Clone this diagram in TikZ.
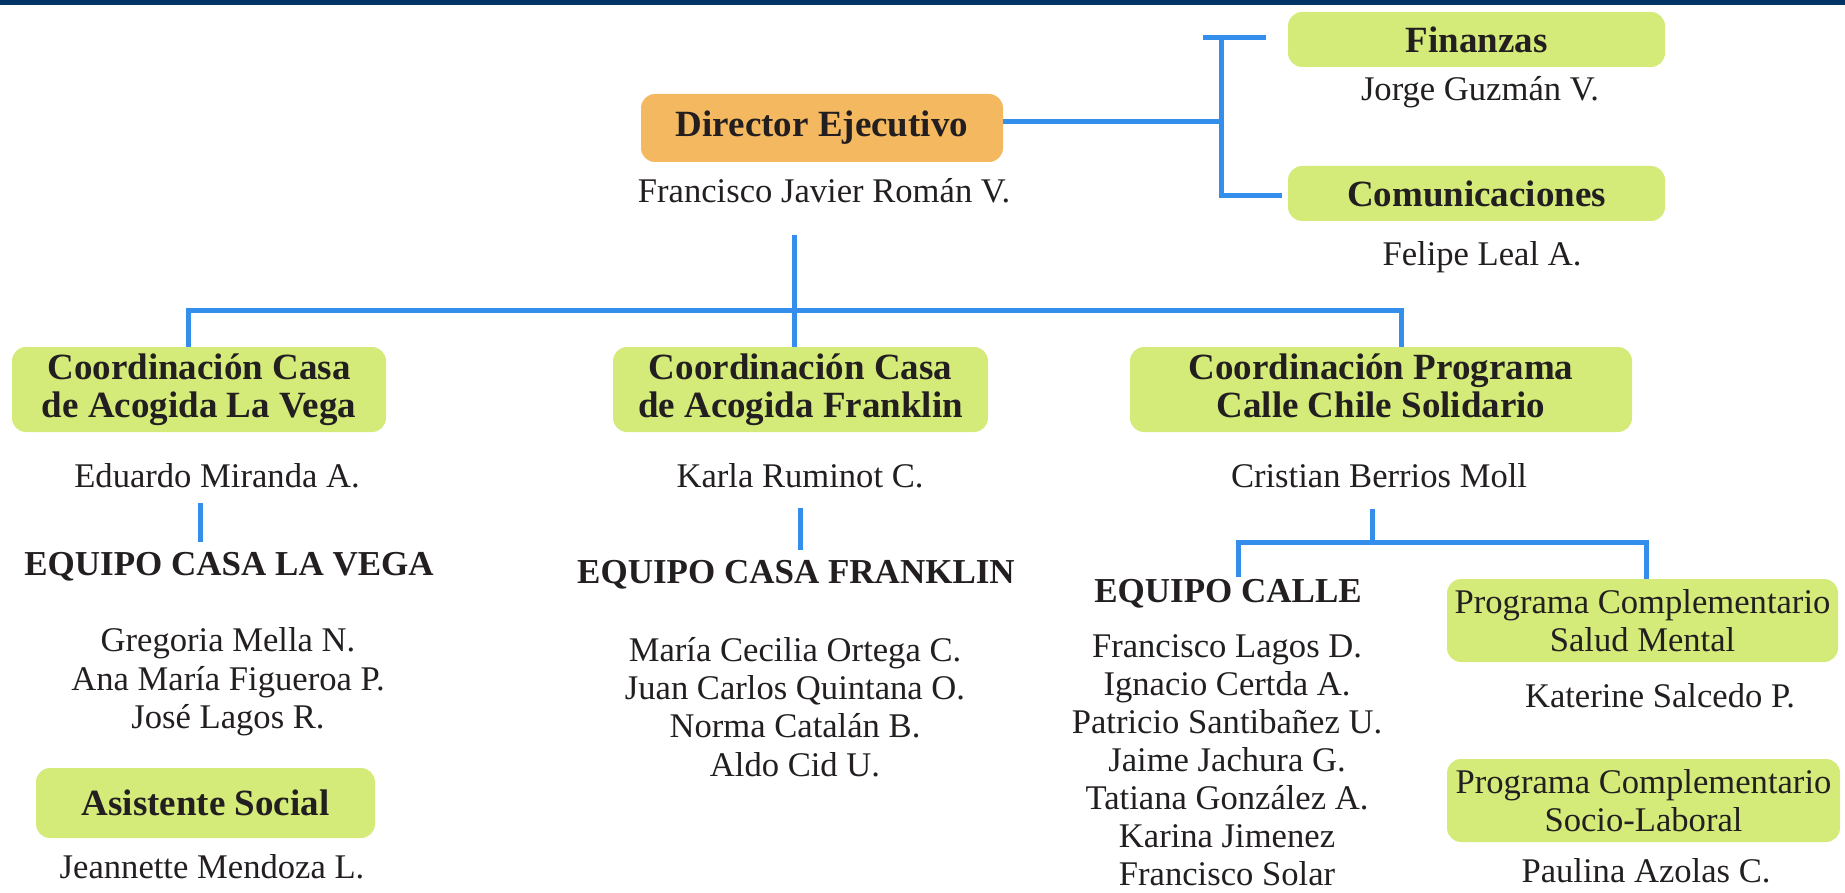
\documentclass[tikz,border=0pt]{standalone}
\usepackage{fontspec}
\setmainfont{Liberation Serif}
\definecolor{boxgreen}{RGB}{212,235,122}
\definecolor{boxorange}{RGB}{244,185,96}
\definecolor{linkblue}{RGB}{52,142,235}
\definecolor{topnavy}{RGB}{0,51,102}
\definecolor{txt}{RGB}{35,31,32}
\newcommand\namefont{\fontsize{17.3}{19.2}\selectfont}
\newcommand\headfont{\fontsize{18.5}{19}\selectfont\bfseries}
\newcommand\teamfont{\fontsize{17.5}{19}\selectfont\bfseries}
\tikzset{
  box/.style={rounded corners=7pt,fill=boxgreen,align=center,inner sep=0pt,font=\headfont,text=txt},
  dirbox/.style={box,fill=boxorange},
  pbox/.style={box,font=\namefont},
  person/.style={font=\namefont,align=center,inner sep=0pt,text=txt},
  team/.style={font=\teamfont,inner sep=0pt,text=txt,anchor=base},
  link/.style={draw=linkblue,line width=2.5pt},
}
\begin{document}
\begin{tikzpicture}[x=0.5pt,y=-0.5pt]
  \useasboundingbox (0,0) rectangle (1845,893);
  \fill[topnavy] (0,0) rectangle (1845,5);
  % direction
  \node[dirbox,minimum width=181pt,minimum height=34pt] (dir) at (822,128) {Director Ejecutivo};
  \node[person,anchor=base] (dirname) at (824,203) {Francisco Javier Román V.};
  \node[box,minimum width=188.5pt,minimum height=27.5pt] (fin) at (1476.5,39.5) {Finanzas};
  \node[person,anchor=base] (finname) at (1480,101) {Jorge Guzmán V.};
  \node[box,minimum width=188.5pt,minimum height=27.5pt] (com) at (1476.5,193.5) {Comunicaciones};
  \node[person,anchor=base] (comname) at (1482,265) {Felipe Leal A.};
  % coordinations
  \node[box,minimum width=187pt,minimum height=42.5pt] (cvega) at (199,389.5) {Coordinación Casa\\de Acogida La Vega};
  \node[box,minimum width=187.5pt,minimum height=42.5pt] (cfrank) at (800.5,389.5) {Coordinación Casa\\de Acogida Franklin};
  \node[box,minimum width=251pt,minimum height=42.5pt] (ccalle) at (1381,389.5) {Coordinación Programa\\Calle Chile Solidario\vphantom{g}};
  \node[person,anchor=base] (evega) at (217,487) {Eduardo Miranda A.};
  \node[person,anchor=base] (efrank) at (800,487) {Karla Ruminot C.};
  \node[person,anchor=base] (ecalle) at (1379,487) {Cristian Berrios Moll};
  % teams
  \node[team] (tvega) at (229,575) {EQUIPO CASA LA VEGA};
  \node[person] (lvega) at (228,682) {Gregoria Mella N.\\Ana María Figueroa P.\\José Lagos R.};
  \node[box,minimum width=169.5pt,minimum height=35pt] (asist) at (205.5,803) {Asistente Social};
  \node[person,anchor=base] (asistname) at (212,878) {Jeannette Mendoza L.};
  \node[team] (tfrank) at (796,583) {EQUIPO CASA FRANKLIN};
  \node[person] (lfrank) at (795,707) {María Cecilia Ortega C.\\Juan Carlos Quintana O.\\Norma Catalán B.\\Aldo Cid U.};
  \node[team] (tcalle) at (1228,602) {EQUIPO CALLE};
  \node[person,font=\fontsize{17.3}{19}\selectfont] (lcalle) at (1227,760) {Francisco Lagos D.\\Ignacio Certda A.\\Patricio Santibañez U.\\Jaime Jachura G.\\Tatiana González A.\\Karina Jimenez\\Francisco Solar};
  \node[pbox,minimum width=195.5pt,minimum height=41.5pt] (psalud) at (1642.5,620.5) {Programa Complementario\\Salud Mental};
  \node[person,anchor=base] (psaludname) at (1660,707) {Katerine Salcedo P.};
  \node[pbox,minimum width=196.5pt,minimum height=41.5pt] (psocio) at (1643.5,800.5) {Programa Complementario\\Socio-Laboral};
  \node[person,anchor=base] (psocioname) at (1646,882) {Paulina Azolas C.};
  % links
  \coordinate (fk) at (1221,122);
  \coordinate (ft) at (1221,38);
  \coordinate (fb) at (1221,196);
  \draw[link] (dir.east |- fk) -- (fk);
  \draw[link,shorten <=-9pt,shorten >=11pt] (ft) -- (ft -| fin.west);
  \draw[link,shorten >=3pt] (ft) -- (fb) -- (fb -| com.west);
  \coordinate (dtop) at (794,235);
  \coordinate (bl) at (188,310);
  \coordinate (br) at (1401,310);
  \draw[link] (dtop) -- (dtop |- cfrank.north);
  \draw[link] (bl |- cvega.north) -- (bl) -- (br) -- (br |- ccalle.north);
  \coordinate (va) at (200,503);
  \draw[link] (va) -- ++(0,39);
  \coordinate (vb) at (800,508);
  \draw[link] (vb) -- ++(0,42);
  \coordinate (cs) at (1372,509);
  \coordinate (cf) at (1372,542);
  \coordinate (cl) at (1238,577);
  \draw[link] (cs) -- (cf);
  \draw[link] (cl) |- (cf) -| ([xshift=2pt]psalud.north);
\end{tikzpicture}
\end{document}
